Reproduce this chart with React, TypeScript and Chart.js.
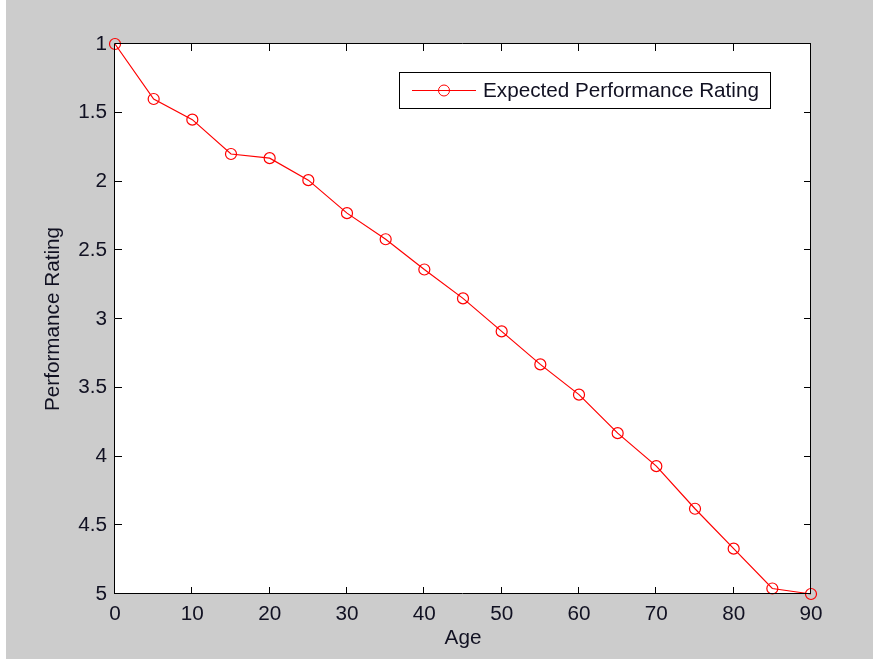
import React, { useEffect, useRef } from "react";
import { Chart, registerables } from "chart.js";

Chart.register(...registerables);

const ages = [0, 5, 10, 15, 20, 25, 30, 35, 40, 45, 50, 55, 60, 65, 70, 75, 80, 85, 90];
const ratings = [1.0, 1.4, 1.55, 1.8, 1.83, 1.99, 2.23, 2.42, 2.64, 2.85, 3.09, 3.33, 3.55, 3.83, 4.07, 4.38, 4.67, 4.96, 5.0];
const xTickValues = [0, 10, 20, 30, 40, 50, 60, 70, 80, 90];
const xTickLabels = ["0", "10", "20", "30", "40", "50", "60", "70", "80", "90"];
const yTickValues = [1, 1.5, 2, 2.5, 3, 3.5, 4, 4.5, 5];
const yTickLabels = ["1", "1.5", "2", "2.5", "3", "3.5", "4", "4.5", "5"];
const seriesLabel = "Expected Performance Rating";
const xTitle = "Age";
const yTitle = "Performance Rating";

const FONT = "'Liberation Sans', Arial, sans-serif";
const FS = 20.7;
const TEXT = "#111122";
const RED = "#ff0000";

const framePlugin = {
  id: "matlabFrame",
  beforeDraw(chart: any) {
    const { ctx, width, height, chartArea } = chart;
    ctx.save();
    ctx.fillStyle = "#cccccc";
    ctx.fillRect(0, 0, width, height);
    ctx.fillStyle = "#ffffff";
    ctx.fillRect(0, 0, 6, height);
    ctx.fillRect(chartArea.left, chartArea.top, chartArea.right - chartArea.left, chartArea.bottom - chartArea.top);
    ctx.restore();
  },
  afterDatasetsDraw(chart: any) {
    const { ctx, chartArea, scales } = chart;
    const { left, right, top, bottom } = chartArea;
    const tl = 7;
    ctx.save();
    ctx.strokeStyle = "#000000";
    ctx.lineWidth = 1;
    ctx.beginPath();
    ctx.rect(Math.round(left) - 0.5, Math.round(top) - 0.5, Math.round(right - left), Math.round(bottom - top));
    ctx.stroke();
    ctx.beginPath();
    scales.x.ticks.forEach((t: any) => {
      const x = Math.round(scales.x.getPixelForValue(t.value)) - 0.5;
      ctx.moveTo(x, bottom);
      ctx.lineTo(x, bottom - tl);
      ctx.moveTo(x, top);
      ctx.lineTo(x, top + tl);
    });
    scales.y.ticks.forEach((t: any) => {
      const y = Math.round(scales.y.getPixelForValue(t.value)) - 0.5;
      ctx.moveTo(left, y);
      ctx.lineTo(left + tl, y);
      ctx.moveTo(right, y);
      ctx.lineTo(right - tl, y);
    });
    ctx.stroke();

    // legend inside plot area
    const bx = 399.5, by = 72.5, bw = 371, bh = 36;
    ctx.fillStyle = "#ffffff";
    ctx.fillRect(bx, by, bw, bh);
    ctx.strokeStyle = "#000000";
    ctx.strokeRect(bx, by, bw, bh);
    const cy = by + bh / 2;
    ctx.strokeStyle = RED;
    ctx.beginPath();
    ctx.moveTo(412, cy);
    ctx.lineTo(476, cy);
    ctx.stroke();
    ctx.beginPath();
    ctx.arc(444, cy, 5.5, 0, Math.PI * 2);
    ctx.stroke();
    ctx.fillStyle = TEXT;
    ctx.font = `${FS}px ${FONT}`;
    ctx.textBaseline = "middle";
    ctx.textAlign = "left";
    ctx.fillText(chart.data.datasets[0].label, 483, cy + 1);
    ctx.restore();
  },
};

export default function App() {
  const canvasRef = useRef<HTMLCanvasElement | null>(null);

  useEffect(() => {
    const canvas = canvasRef.current;
    if (!canvas) return;
    const chart = new Chart(canvas, {
      type: "line",
      data: {
        datasets: [
          {
            label: seriesLabel,
            data: ages.map((a, i) => ({ x: a, y: ratings[i] })),
            borderColor: RED,
            borderWidth: 1.2,
            pointRadius: 5.5,
            pointBorderWidth: 1.2,
            pointBorderColor: RED,
            pointBackgroundColor: "rgba(0,0,0,0)",
            pointStyle: "circle",
            tension: 0,
            fill: false,
            clip: false as any,
          },
        ],
      },
      options: {
        animation: false,
        responsive: false,
        devicePixelRatio: 1,
        layout: { padding: { top: 44, right: 62, left: 0, bottom: 0 } },
        plugins: {
          legend: { display: false },
          tooltip: { enabled: false },
        },
        scales: {
          x: {
            type: "linear",
            min: 0,
            max: 90,
            afterBuildTicks: (scale: any) => {
              scale.ticks = xTickValues.map((v) => ({ value: v }));
            },
            afterFit: (scale: any) => {
              scale.height = 65;
            },
            grid: { display: false, drawTicks: false },
            border: { display: false },
            ticks: {
              autoSkip: false,
              maxRotation: 0,
              padding: 8,
              color: TEXT,
              font: { family: FONT, size: FS },
              callback: (v: any) => xTickLabels[xTickValues.indexOf(Number(v))] ?? String(v),
            },
            title: {
              display: true,
              text: xTitle,
              color: TEXT,
              font: { family: FONT, size: FS },
              padding: { top: 0, bottom: 8 },
            },
          },
          y: {
            type: "linear",
            reverse: true,
            min: 1,
            max: 5,
            afterBuildTicks: (scale: any) => {
              scale.ticks = yTickValues.map((v) => ({ value: v }));
            },
            afterFit: (scale: any) => {
              scale.width = 115;
            },
            grid: { display: false, drawTicks: false },
            border: { display: false },
            ticks: {
              autoSkip: false,
              padding: 8,
              color: TEXT,
              font: { family: FONT, size: FS },
              callback: (v: any) => yTickLabels[yTickValues.indexOf(Number(v))] ?? String(v),
            },
            title: {
              display: true,
              text: yTitle,
              color: TEXT,
              font: { family: FONT, size: FS },
              padding: { top: 41, bottom: 0 },
            },
          },
        },
      },
      plugins: [framePlugin],
    });
    return () => chart.destroy();
  }, []);

  return (
    <div style={{ position: "fixed", left: 0, top: 0, width: 873, height: 659 }}>
      <canvas ref={canvasRef} width={873} height={659} style={{ display: "block", width: 873, height: 659 }} />
    </div>
  );
}
